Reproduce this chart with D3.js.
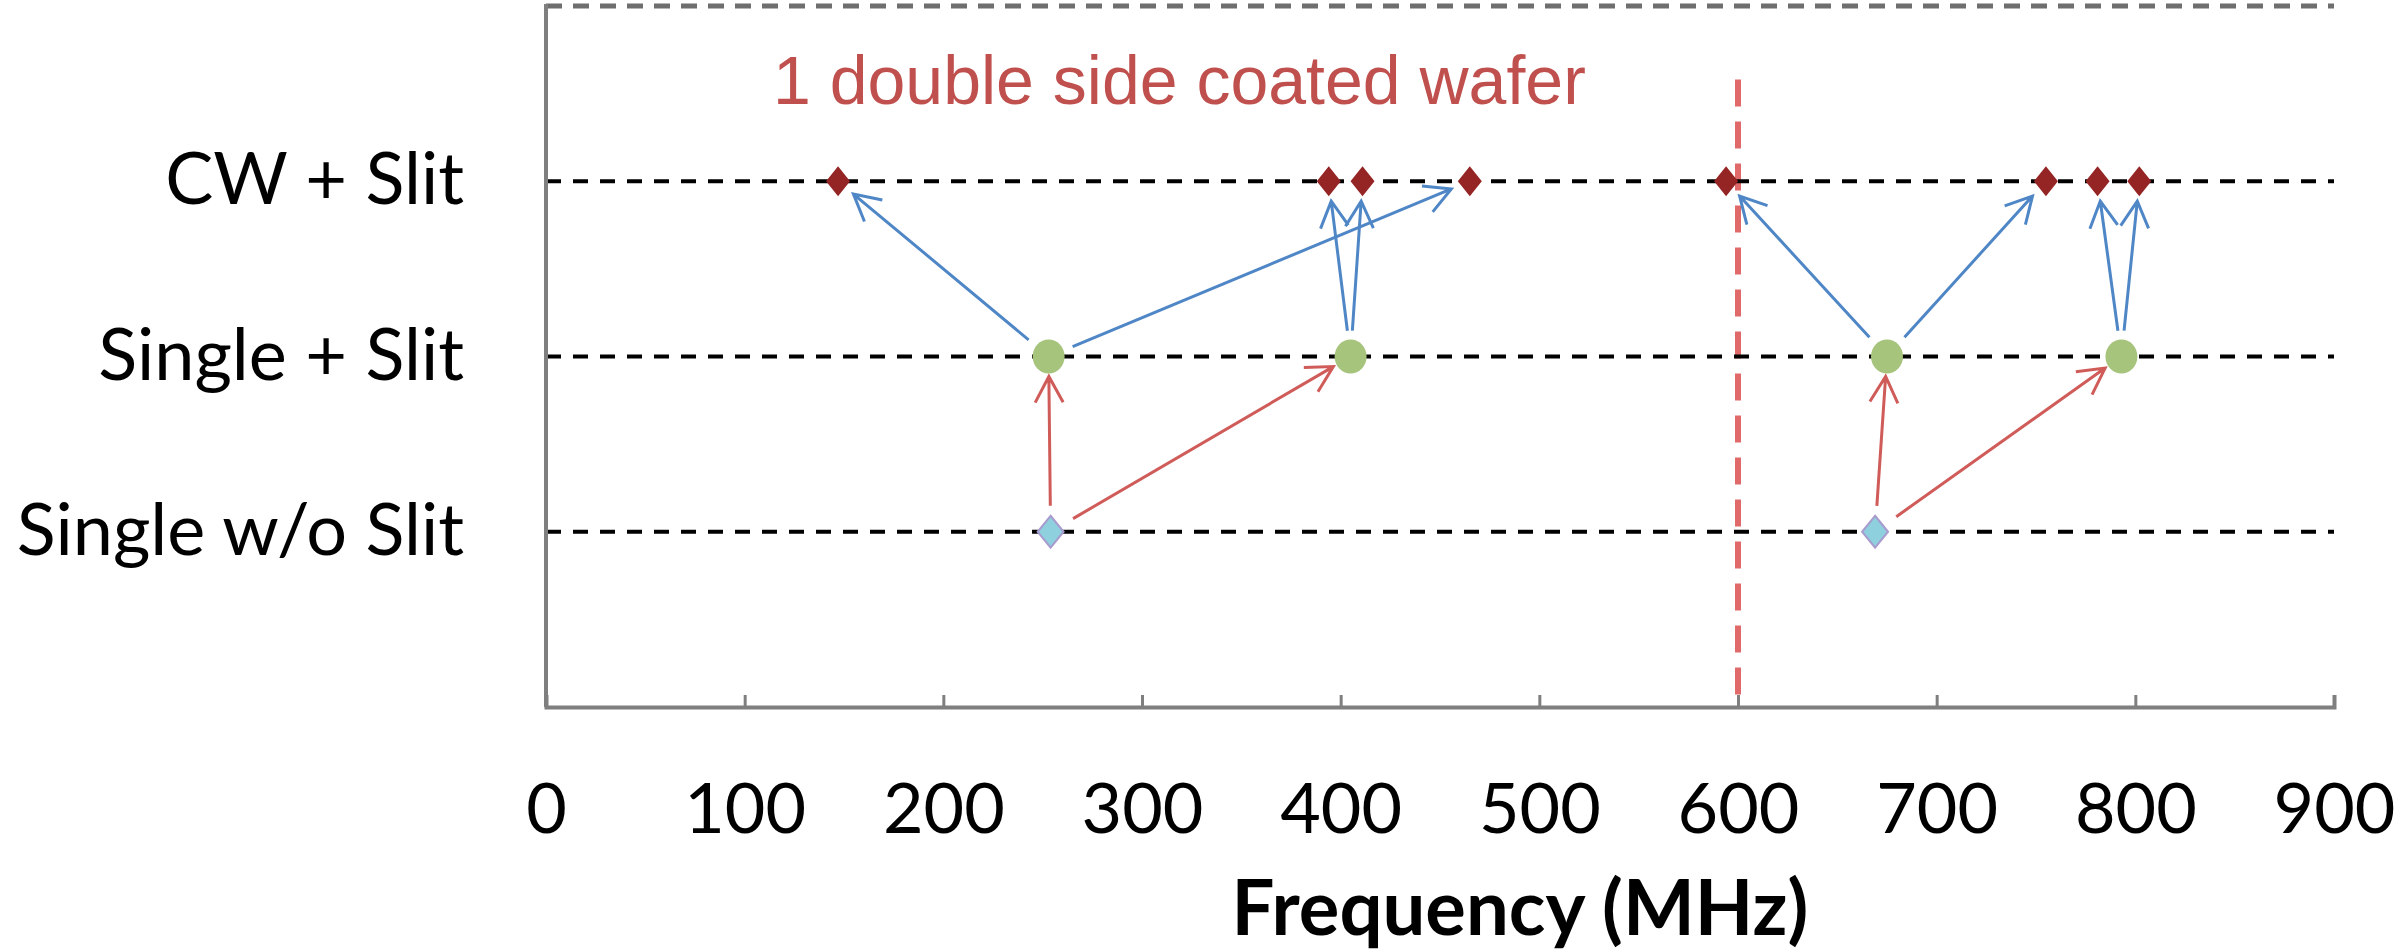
<!DOCTYPE html>
<html>
<head>
<meta charset="utf-8">
<script src="https://cdn.jsdelivr.net/npm/d3@7"></script>
<style>
  body { margin: 0; background: #fff; }
  svg { display: block; }
</style>
</head>
<body>
<script>
// levels on the y axis, bottom to top
const categories = ['Single w/o Slit', 'Single + Slit', 'CW + Slit']
const freqTicks = [0, 100, 200, 300, 400, 500, 600, 700, 800, 900]

// resonance frequencies (MHz) for each level
const singleNoSlit = [254, 669]
const singleSlit = [253, 405, 675, 793]
const cwSlit = [147, 394, 411, 465, 594, 755, 781, 802]

// arrows: [index in lower series, index in upper series]
const redArrows = [[0, 0], [0, 1], [1, 2], [1, 3]]
const blueArrows = [[0, 0], [0, 3], [1, 1], [1, 2], [2, 4], [2, 5], [3, 6], [3, 7]]

const waferFreq = 600
const waferTop = 3.58
const waferLabel = '1 double side coated wafer'
const xTitle = 'Frequency (MHz)'

const W = 2400, H = 952
const margin = { top: 6, right: 66, bottom: 245, left: 546 }
const labelFont = 'Lato, "Open Sans", sans-serif'

const svg = d3.select('body').append('svg')
  .attr('width', W)
  .attr('height', H)

svg.append('rect').attr('width', W).attr('height', H).attr('fill', '#fff')

const x = d3.scaleLinear().domain([0, 900]).range([margin.left, W - margin.right])
const y = d3.scaleLinear().domain([0, 4]).range([H - margin.bottom, margin.top])

// top border, dashed grey
svg.append('line')
  .attr('x1', x(0)).attr('x2', x(900))
  .attr('y1', y(4)).attr('y2', y(4))
  .attr('stroke', '#6e6e6e')
  .attr('stroke-width', 5)
  .attr('stroke-dasharray', '16,11')

// wafer marker line
svg.append('line')
  .attr('x1', x(waferFreq)).attr('x2', x(waferFreq))
  .attr('y1', y(waferTop)).attr('y2', y(0) - 10)
  .attr('stroke', '#e06a6a')
  .attr('stroke-width', 6)
  .attr('stroke-dasharray', '27,15')

// category lines
svg.selectAll('.cat-line')
  .data(categories)
  .enter()
  .append('line')
  .attr('class', 'cat-line')
  .attr('x1', x(0)).attr('x2', x(900))
  .attr('y1', (d, i) => y(i + 1)).attr('y2', (d, i) => y(i + 1))
  .attr('stroke', '#000')
  .attr('stroke-width', 4)
  .attr('stroke-dasharray', '15,12')

// left axis line
svg.append('line')
  .attr('x1', x(0)).attr('x2', x(0))
  .attr('y1', y(4) - 2).attr('y2', y(0))
  .attr('stroke', '#7f7f7f')
  .attr('stroke-width', 4)

// bottom axis
const xAxis = d3.axisBottom(x)
  .tickValues(freqTicks)
  .tickSize(-12)
  .tickPadding(76)
  .tickFormat(d3.format('d'))

const gx = svg.append('g')
  .attr('transform', 'translate(0,' + y(0) + ')')
  .call(xAxis)
gx.select('.domain').attr('stroke', '#7f7f7f').attr('stroke-width', 4)
gx.selectAll('.tick line').attr('stroke', '#7f7f7f').attr('stroke-width', 3)
gx.selectAll('.tick text')
  .attr('font-family', labelFont)
  .attr('font-size', 70)
  .attr('fill', '#000')

// arrows
function arrowPath (p0, p1) {
  const dx = p1[0] - p0[0], dy = p1[1] - p0[1]
  const len = Math.sqrt(dx * dx + dy * dy)
  const ux = dx / len, uy = dy / len
  const nx = -uy, ny = ux
  const t = [p0[0] + ux * 26, p0[1] + uy * 26]
  const h = [p1[0] - ux * 20, p1[1] - uy * 20]
  const hl = 26, hw = 14
  const a = [h[0] - ux * hl + nx * hw, h[1] - uy * hl + ny * hw]
  const b = [h[0] - ux * hl - nx * hw, h[1] - uy * hl - ny * hw]
  return 'M' + t + 'L' + h + 'M' + a + 'L' + h + 'L' + b
}

svg.selectAll('.red-arrow')
  .data(redArrows)
  .enter()
  .append('path')
  .attr('class', 'red-arrow')
  .attr('d', d => arrowPath([x(singleNoSlit[d[0]]), y(1)], [x(singleSlit[d[1]]), y(2)]))
  .attr('fill', 'none')
  .attr('stroke', '#d05c5a')
  .attr('stroke-width', 3)

svg.selectAll('.blue-arrow')
  .data(blueArrows)
  .enter()
  .append('path')
  .attr('class', 'blue-arrow')
  .attr('d', d => arrowPath([x(singleSlit[d[0]]), y(2)], [x(cwSlit[d[1]]), y(3)]))
  .attr('fill', 'none')
  .attr('stroke', '#4f86c6')
  .attr('stroke-width', 3)

// markers
const diamond = (w, h) => 'M0,' + (-h / 2) + 'L' + (w / 2) + ',0L0,' + (h / 2) + 'L' + (-w / 2) + ',0Z'

svg.selectAll('.cw')
  .data(cwSlit)
  .enter()
  .append('path')
  .attr('class', 'cw')
  .attr('transform', d => 'translate(' + x(d) + ',' + y(3) + ')')
  .attr('d', diamond(24, 30))
  .attr('fill', '#952424')

svg.selectAll('.single')
  .data(singleSlit)
  .enter()
  .append('ellipse')
  .attr('class', 'single')
  .attr('cx', d => x(d))
  .attr('cy', y(2))
  .attr('rx', 16)
  .attr('ry', 17)
  .attr('fill', '#a6c47c')

svg.selectAll('.noslit')
  .data(singleNoSlit)
  .enter()
  .append('path')
  .attr('class', 'noslit')
  .attr('transform', d => 'translate(' + x(d) + ',' + y(1) + ')')
  .attr('d', diamond(26, 32))
  .attr('fill', '#8ed0de')
  .attr('stroke', '#a89ccf')
  .attr('stroke-width', 2)

// category labels
svg.selectAll('.cat-label')
  .data(categories)
  .enter()
  .append('text')
  .attr('class', 'cat-label')
  .attr('x', 464)
  .attr('y', (d, i) => y(i + 1) + 23)
  .attr('text-anchor', 'end')
  .attr('font-family', labelFont)
  .attr('font-size', 72)
  .attr('fill', '#000')
  .text(d => d)

// annotation
svg.append('text')
  .attr('x', 773)
  .attr('y', 104)
  .attr('font-family', '"Liberation Sans", Arial, sans-serif')
  .attr('font-size', 68)
  .attr('fill', '#c0504d')
  .text(waferLabel)

// axis title
svg.append('text')
  .attr('x', 1520)
  .attr('y', 935)
  .attr('text-anchor', 'middle')
  .attr('font-family', labelFont)
  .attr('font-weight', 'bold')
  .attr('font-size', 76)
  .attr('fill', '#000')
  .text(xTitle)
</script>
</body>
</html>
